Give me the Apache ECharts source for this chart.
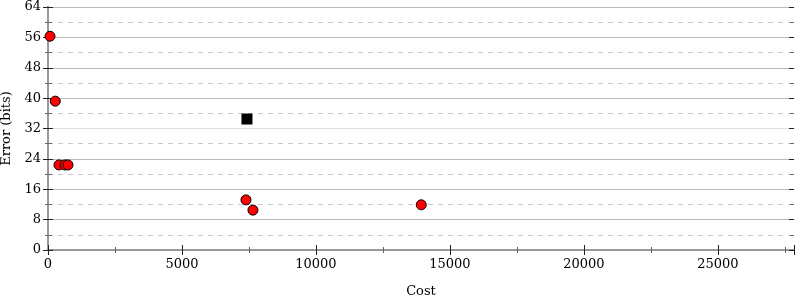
<!DOCTYPE html>
<html><head><meta charset="utf-8">
<script src="https://cdn.jsdelivr.net/npm/echarts@6/dist/echarts.min.js"></script>
<style>html,body{margin:0;padding:0;background:#fff}#c{width:800px;height:300px}</style>
</head><body><div id="c"></div>
<script>
const circleCost = [75, 272, 410, 634, 746, 7388, 7649, 13930];
const circleError = [56.3, 39.2, 22.4, 22.4, 22.4, 13.2, 10.5, 11.9];
const squareCost = [7425];
const squareError = [34.5];
const xMin = 0, xMax = 27840, xStep = 5000;
const yMin = 0, yMax = 64, yStep = 8;

const font = 'DejaVu Serif';
const chart = echarts.init(document.getElementById('c'));
const axisLine = {show: true, lineStyle: {color: '#999', width: 2}};
function xa(extra) {
  return Object.assign({type: 'value', min: xMin, max: xMax, interval: xStep, axisLine: axisLine,
    splitLine: {show: false}, axisLabel: {show: false}}, extra);
}
function ya(extra) {
  return Object.assign({type: 'value', min: yMin, max: yMax, interval: yStep, axisLine: axisLine,
    splitLine: {show: false}, axisLabel: {show: false}}, extra);
}
const majorTick = (inside) => ({show: true, inside: inside, length: 5, lineStyle: {color: '#222', width: 1}});
const minorTick = () => ({show: true, splitNumber: 2, length: 3, lineStyle: {color: '#666', width: 1}});
chart.setOption({
  animation: false,
  grid: {left: 48, right: 6, top: 7, bottom: 50, containLabel: false, outerBoundsMode: 'none'},
  xAxis: [
    xa({position: 'bottom', axisTick: majorTick(false), minorTick: minorTick(),
      axisLabel: {show: true, color: '#000', fontFamily: font, fontSize: 13, margin: 8, showMaxLabel: false,
        formatter: v => String(v)},
      name: 'Cost', nameLocation: 'middle', nameGap: 35,
      nameTextStyle: {color: '#000', fontFamily: font, fontSize: 13}}),
    xa({position: 'bottom', axisTick: majorTick(true), minorTick: minorTick(), axisLine: {show: false}}),
    xa({position: 'top', axisTick: {show: false}, minorTick: {show: false}})
  ],
  yAxis: [
    ya({position: 'left', axisTick: majorTick(false), minorTick: minorTick(),
      axisLabel: {show: true, color: '#000', fontFamily: font, fontSize: 13, margin: 7, formatter: v => String(v)},
      splitLine: {show: true, lineStyle: {color: ['#bbb','#bbb','#bbb','#bbb','#ddd','#bbb','#bbb','#bbb','#bbb'], width: 1}},
      minorSplitLine: {show: true, lineStyle: {color: '#c8c8c8', type: [5, 5], width: 1}},
      name: 'Error (bits)', nameLocation: 'middle', nameGap: 30,
      nameTextStyle: {color: '#000', fontFamily: font, fontSize: 13}}),
    ya({position: 'left', axisTick: majorTick(true), minorTick: minorTick(), axisLine: {show: false}}),
    ya({position: 'right', axisTick: majorTick(false), minorTick: {show: true, splitNumber: 2, length: 4, lineStyle: {color: '#666'}}}),
    ya({position: 'right', axisTick: majorTick(true), minorTick: {show: true, splitNumber: 2, length: 4, lineStyle: {color: '#666'}}, axisLine: {show: false}})
  ],
  series: [
    {type: 'scatter', xAxisIndex: 0, yAxisIndex: 0, symbol: 'circle', symbolSize: 10,
      itemStyle: {color: '#ff0000', borderColor: '#000', borderWidth: 1, opacity: 1},
      data: circleCost.map((c, i) => [c, circleError[i]]), z: 5},
    {type: 'scatter', xAxisIndex: 0, yAxisIndex: 0, symbol: 'rect', symbolSize: 11,
      itemStyle: {color: '#000', opacity: 1},
      data: squareCost.map((c, i) => [c, squareError[i]]), z: 5}
  ]
});
</script></body></html>
